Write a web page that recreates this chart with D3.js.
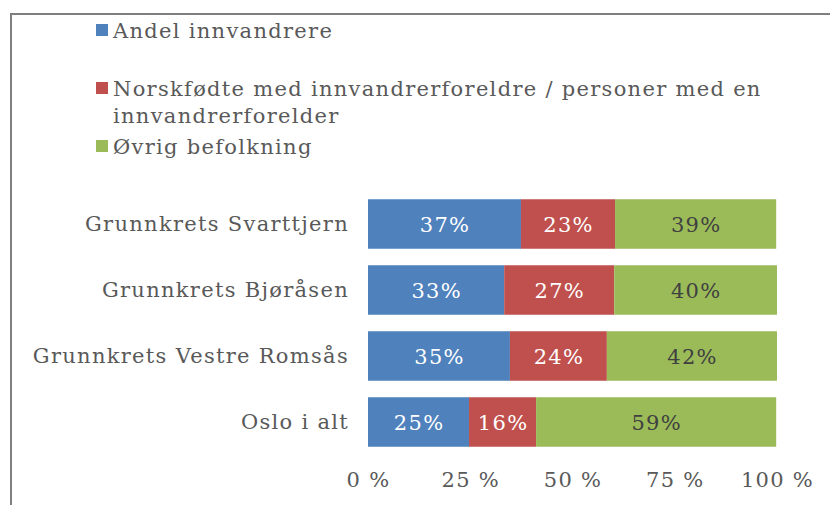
<!DOCTYPE html>
<html>
<head>
<meta charset="utf-8">
<script src="https://cdn.jsdelivr.net/npm/d3@7"></script>
<style>
  body { margin: 0; background: #fff; }
  text { font-family: "DejaVu Serif", serif; letter-spacing: 1.3px; }
</style>
</head>
<body>
<svg id="chart" width="830" height="505"></svg>
<script>
// data (shares in %)
const categories = ["Grunnkrets Svarttjern", "Grunnkrets Bjøråsen", "Grunnkrets Vestre Romsås", "Oslo i alt"];
const seriesNames = ["Andel innvandrere", "Norskfødte med innvandrerforeldre / personer med en innvandrerforelder", "Øvrig befolkning"];
const innvandrere = [37.4, 33.3, 34.7, 24.7];
const norskfodte = [23.0, 26.9, 23.7, 16.4];
const ovrig = [39.4, 39.8, 41.6, 58.7];
const ticks = [0, 25, 50, 75, 100];

const colors = ["#4F81BD", "#C0504D", "#9BBB59"];
const labelColors = ["#ffffff", "#ffffff", "#404040"];
const fs = 21;

const svg = d3.select("#chart");

// frame
svg.append("path")
    .attr("d", "M11,506 V14 H831")
    .attr("fill", "none")
    .attr("stroke", "#7f7f7f")
    .attr("stroke-width", 2);

const x = d3.scaleLinear().domain([0, 100]).range([368, 777]);
const y = d3.scaleBand().domain(categories).range([191, 455]).paddingInner(0.25).paddingOuter(0.125);

const rows = categories.map((c, i) => ({cat: c, v: [innvandrere[i], norskfodte[i], ovrig[i]]}));
const stack = d3.stack().keys([0, 1, 2]).value((d, k) => d.v[k]);
const layers = stack(rows);

const g = svg.selectAll("g.layer")
    .data(layers)
    .join("g")
    .attr("class", "layer");

g.selectAll("rect")
    .data((d) => d.map((p) => ({p, k: d.key})))
    .join("rect")
    .attr("x", (d) => x(d.p[0]))
    .attr("y", (d) => y(d.p.data.cat))
    .attr("width", (d) => x(d.p[1]) - x(d.p[0]))
    .attr("height", y.bandwidth())
    .attr("fill", (d) => colors[d.k]);

g.selectAll("text")
    .data((d) => d.map((p) => ({p, k: d.key})))
    .join("text")
    .attr("x", (d) => (x(d.p[0]) + x(d.p[1])) / 2 + 0.6)
    .attr("y", (d) => y(d.p.data.cat) + y.bandwidth() / 2)
    .attr("dy", "0.36em")
    .attr("text-anchor", "middle")
    .attr("font-size", fs)
    .attr("fill", (d) => labelColors[d.k])
    .text((d) => Math.round(d.p.data.v[d.k]) + "%");

// category axis
const yAxis = svg.append("g")
    .attr("transform", "translate(368,0)")
    .call(d3.axisLeft(y).tickSize(0).tickPadding(19));
yAxis.select(".domain").remove();
yAxis.selectAll("text")
    .attr("font-family", "DejaVu Serif, serif")
    .attr("font-size", fs)
    .attr("fill", "#595959");

// value axis
const xAxis = svg.append("g")
    .attr("transform", "translate(0,469)")
    .call(d3.axisBottom(x).tickValues(ticks).tickSize(0).tickFormat((d) => d + " %"));
xAxis.select(".domain").remove();
xAxis.selectAll("text")
    .attr("font-family", "DejaVu Serif, serif")
    .attr("font-size", fs)
    .attr("fill", "#595959");

// legend
const legendY = [30, 88, 146];
const leg = svg.selectAll("g.legend")
    .data(seriesNames)
    .join("g")
    .attr("class", "legend")
    .attr("transform", (d, i) => `translate(96,${legendY[i]})`);
leg.append("rect")
    .attr("x", 0).attr("y", -6)
    .attr("width", 12).attr("height", 12)
    .attr("fill", (d, i) => colors[i]);
leg.append("text")
    .attr("x", 17)
    .attr("font-size", fs)
    .attr("fill", "#595959")
    .each(function (d) {
        const t = d3.select(this);
        const parts = d.length > 40 ? ["Norskfødte med innvandrerforeldre / personer med en", "innvandrerforelder"] : [d];
        parts.forEach((s, j) => t.append("tspan").attr("x", 17).attr("dy", j === 0 ? "0.36em" : 27).text(s));
    });
</script>
</body>
</html>
